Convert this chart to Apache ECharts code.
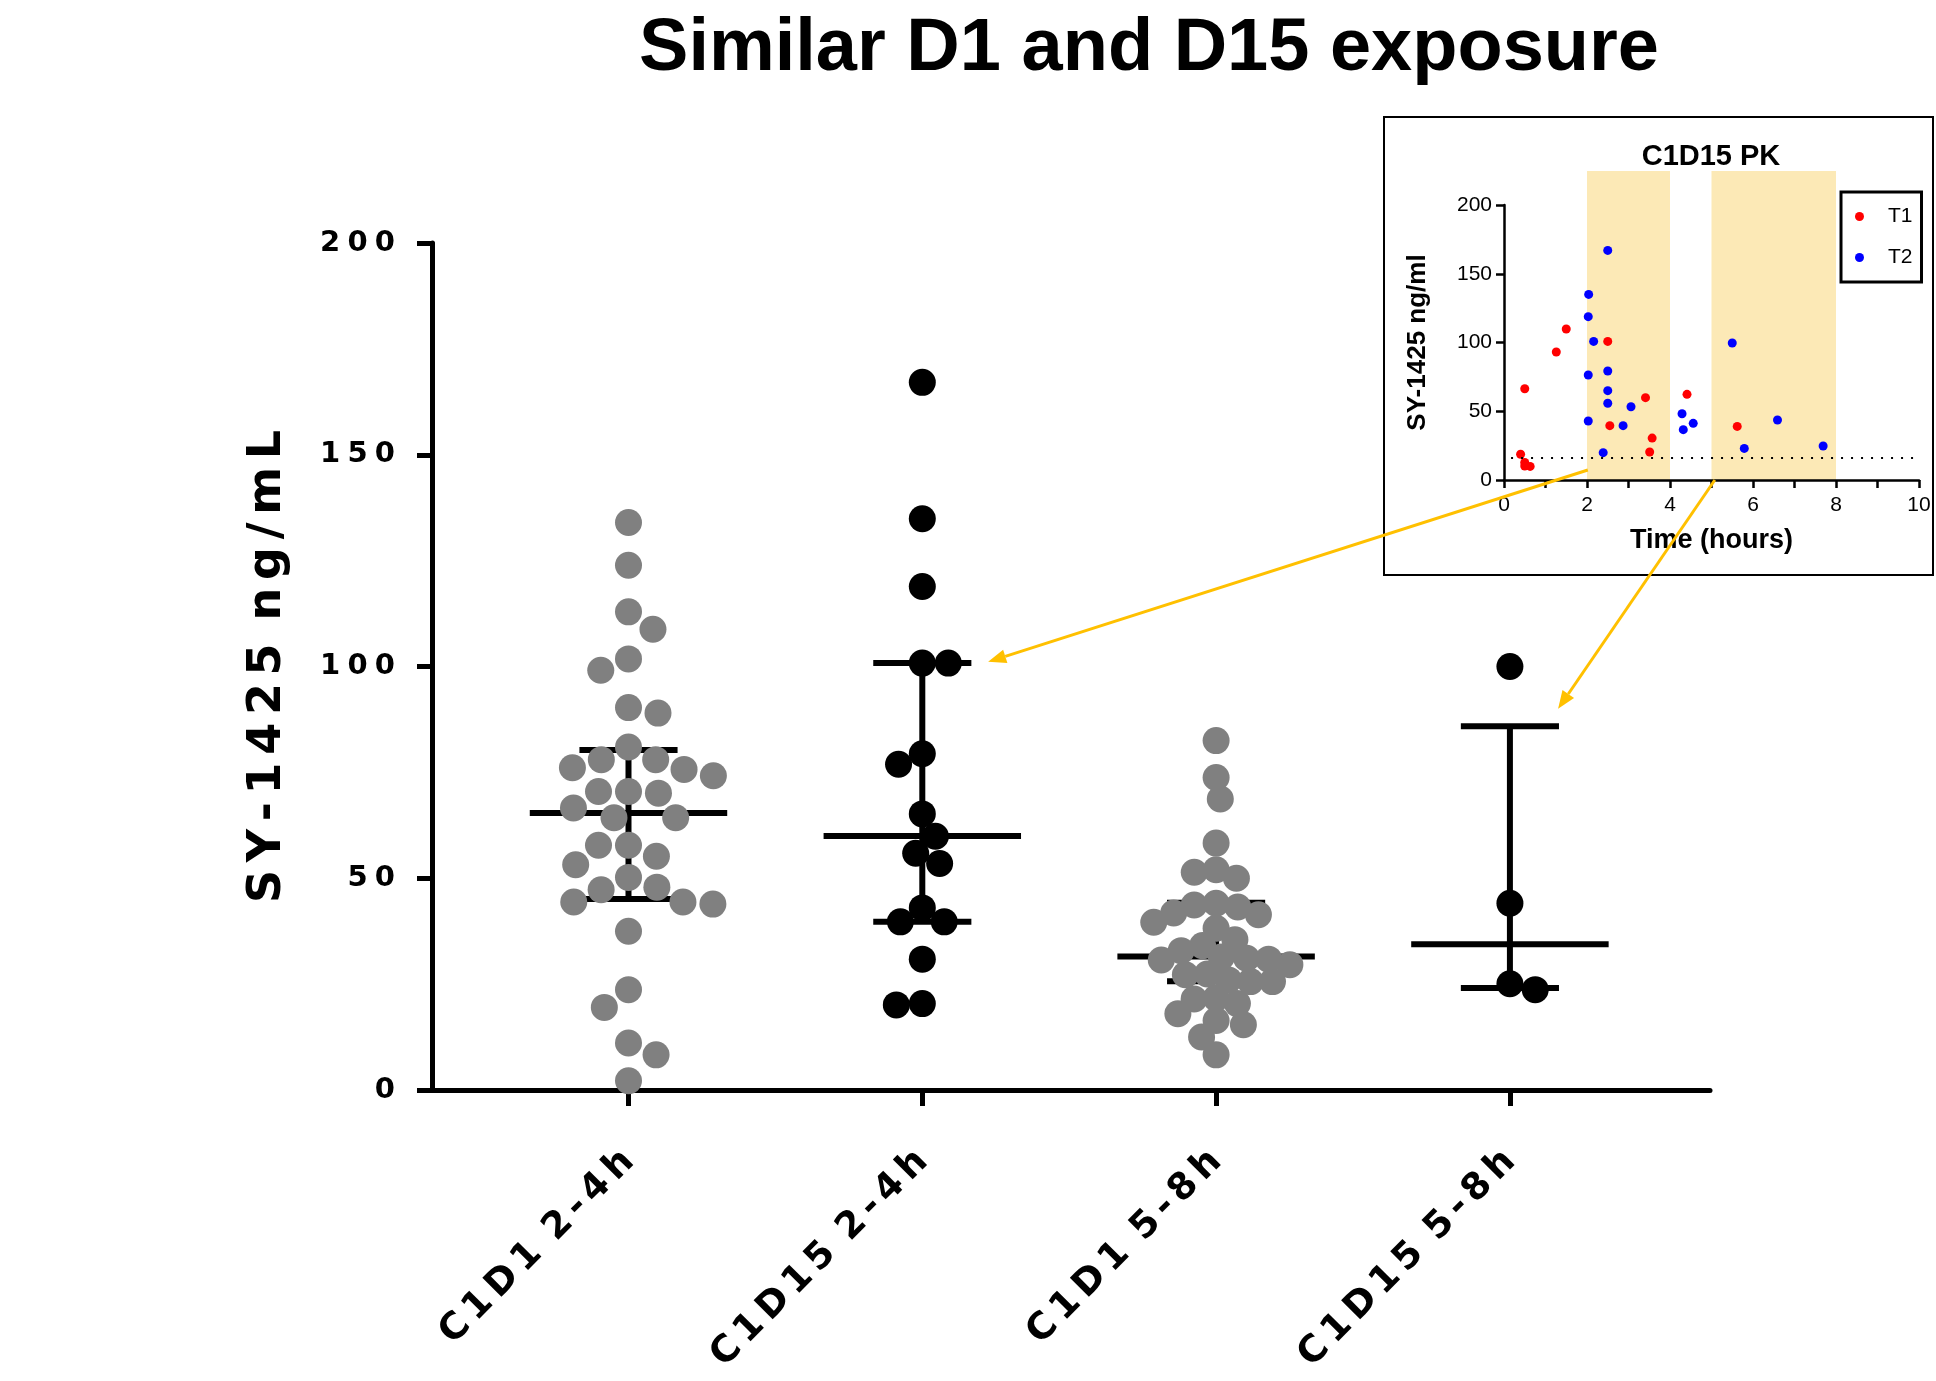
<!DOCTYPE html>
<html>
<head>
<meta charset="utf-8">
<title>Similar D1 and D15 exposure</title>
<script src="https://cdn.jsdelivr.net/npm/echarts@6/dist/echarts.min.js"></script>
<style>
  html, body { margin: 0; padding: 0; background: #fff; }
  #chart { width: 1936px; height: 1381px; }
</style>
</head>
<body>
<div id="chart"></div>
<script>
// ---- data ----
const categories = ['C1D1 2-4h', 'C1D15 2-4h', 'C1D1 5-8h', 'C1D15 5-8h']

const c1d1Early = [134.0, 123.9, 112.9, 108.8, 101.8, 99.1, 90.3, 89.0, 81.0, 78.0, 78.0, 76.1,
  75.7, 74.2, 70.5, 70.5, 70.1, 66.6, 64.3, 64.3, 57.8, 57.8, 55.2, 53.2, 50.2, 47.9, 47.3,
  44.4, 44.4, 43.9, 37.5, 23.7, 19.5, 11.1, 8.3, 2.2]
const c1d15Early = [167.1, 134.9, 118.9, 100.8, 100.8, 79.4, 76.9, 65.2, 59.9, 55.9, 53.5,
  43.0, 39.7, 39.7, 30.9, 20.4, 20.1]
const c1d1Late = [82.5, 73.8, 68.7, 58.3, 52.0, 51.4, 50.0, 44.1, 43.7, 43.2, 41.8, 41.4, 39.6,
  38.2, 35.5, 34.1, 32.9, 31.4, 31.1, 30.9, 30.7, 29.6, 27.4, 27.2, 26.0, 25.6, 25.6, 21.7,
  21.5, 20.4, 18.0, 16.4, 15.4, 12.5, 8.3]
const c1d15Late = [100.0, 44.1, 25.1, 23.7]

// centre line and bar ends per group
const centerValues = [65.4, 60.0, 31.5, 34.4]
const lowerValues = [45.1, 39.7, 25.7, 24.1]
const upperValues = [80.3, 100.8, 44.2, 85.9]

// inset: C1D15 PK
const t1Hours = [0.40, 0.50, 0.50, 0.63, 0.50, 1.26, 1.50, 2.50, 2.55, 3.41, 3.51, 3.57, 4.41, 5.62]
const t1Conc = [18.7, 12.8, 10.2, 9.9, 66.4, 93.1, 109.8, 100.8, 39.5, 59.9, 20.4, 30.5, 62.3, 39.0]
const t2Hours = [2.50, 2.04, 2.03, 2.16, 2.03, 2.50, 2.50, 2.50, 3.06, 2.03, 2.87, 2.39, 4.29,
  4.32, 4.56, 5.50, 5.79, 6.59, 7.69]
const t2Conc = [167.0, 135.0, 118.8, 100.8, 76.4, 79.3, 65.0, 55.8, 53.3, 42.9, 39.5, 19.9, 48.2,
  36.6, 41.2, 99.6, 23.0, 43.6, 24.7]
const lloq = 16.5
const pkWindows = [[2, 4], [5, 8]]

// arrows: [inset point, main point]
const arrowLinks = [
  [[2.02, 7.3], [2.224, 101.1]],
  [[5.08, 0], [4.164, 90.0]]
]

// ---- layout ----
const MAIN = { left: 432, right: 226, top: 243, bottom: 291 }
const INSET = { left: 1504, right: 17, top: 205, bottom: 901 }
const X_MIN = 0.3312
const X_MAX = 4.681
const MEAN_HALF = 0.336
const CAP_HALF = 0.167
const DOT = 27
const ARROW = '#FFC000'
// wide letter spacing like the exported figure
const spaced = (s, gap) => s.split(' ').map(w => w.split('').join(gap)).join(gap + gap + gap)

const chart = echarts.init(document.getElementById('chart'))

const ppu = (chart.getWidth() - MAIN.left - MAIN.right) / (X_MAX - X_MIN)
const ppv = (chart.getHeight() - MAIN.top - MAIN.bottom) / 200

// simple beeswarm: spread points sideways so they do not pile up
function swarm(values, xc, dist) {
  const order = values.map((v, i) => i).sort((a, b) => values[b] - values[a])
  const placed = []
  const out = []
  let lastSide = -1
  order.forEach(i => {
    const y = values[i] * ppv
    const near = placed.filter(p => Math.abs(p.y - y) < dist)
    const cands = [0]
    near.forEach(p => {
      const dx = Math.sqrt(dist * dist - (p.y - y) * (p.y - y))
      cands.push(p.x - dx, p.x + dx)
    })
    const ok = cands.filter(c => near.every(p => Math.hypot(p.x - c, p.y - y) >= dist - 0.01))
    ok.sort((a, b) => (Math.abs(a) - Math.abs(b)) || (lastSide > 0 ? a - b : b - a))
    const x = ok[0]
    if (x !== 0) lastSide = Math.sign(x)
    placed.push({ x, y })
    out.push([xc + x / ppu, values[i]])
  })
  return out
}

const groups = [c1d1Early, c1d15Early, c1d1Late, c1d15Late]
const groupColors = ['#808080', '#000000', '#808080', '#000000']
const swarmGap = [30, 26, 22, 26]
const summaryData = categories.map((c, i) => [i + 1, centerValues[i], lowerValues[i], upperValues[i]])

function renderSummary(params, api) {
  const x = api.value(0)
  const seg = (x1, y1, x2, y2) => {
    const a = api.coord([x1, y1])
    const b = api.coord([x2, y2])
    return {
      type: 'line',
      shape: { x1: a[0], y1: a[1], x2: b[0], y2: b[1] },
      style: { stroke: '#000', lineWidth: 6 }
    }
  }
  return {
    type: 'group',
    children: [
      seg(x - MEAN_HALF, api.value(1), x + MEAN_HALF, api.value(1)),
      seg(x, api.value(2), x, api.value(3)),
      seg(x - CAP_HALF, api.value(2), x + CAP_HALF, api.value(2)),
      seg(x - CAP_HALF, api.value(3), x + CAP_HALF, api.value(3))
    ]
  }
}

function renderWindow(params, api) {
  const a = api.coord([api.value(0), 1])
  const b = api.coord([api.value(1), 0])
  return {
    type: 'rect',
    shape: { x: a[0], y: a[1], width: b[0] - a[0], height: b[1] - a[1] },
    style: { fill: '#FCE9B6' }
  }
}

const zip = (xs, ys) => xs.map((x, i) => [x, ys[i]])

const tickFont = '"Liberation Sans", Arial, sans-serif'
const wideFont = '"DejaVu Sans", sans-serif'

chart.setOption({
  animation: false,
  backgroundColor: '#fff',
  grid: [
    { left: MAIN.left, right: MAIN.right, top: MAIN.top, bottom: MAIN.bottom },
    { left: INSET.left, right: INSET.right, top: INSET.top, bottom: INSET.bottom },
    { left: INSET.left, right: INSET.right, top: 171, bottom: INSET.bottom }
  ],
  legend: {
    data: ['T1', 'T2'],
    orient: 'vertical',
    left: 1841,
    top: 192,
    icon: 'circle',
    itemWidth: 9,
    itemHeight: 9,
    itemGap: 20,
    padding: [14, 9, 14, 14],
    borderColor: '#000',
    borderWidth: 3,
    textStyle: { fontFamily: tickFont, fontSize: 21, color: '#000', lineHeight: 20, padding: [0, 0, 0, 19] }
  },
  xAxis: [{
    gridIndex: 0,
    type: 'value',
    min: X_MIN,
    max: X_MAX,
    splitLine: { show: false },
    axisLine: { lineStyle: { color: '#000', width: 5 } },
    axisTick: { customValues: [1, 2, 3, 4], length: 16, lineStyle: { color: '#000', width: 5 } },
    axisLabel: {
      customValues: [1, 2, 3, 4],
      rotate: 45,
      margin: 66,
      color: '#000',
      fontFamily: wideFont,
      fontWeight: 'bold',
      fontSize: 37,
      formatter: v => spaced(categories[Math.round(v) - 1], '\u2006')
    }
  }, {
    gridIndex: 1,
    type: 'value',
    min: 0,
    max: 10,
    interval: 1,
    name: 'Time (hours)',
    nameLocation: 'middle',
    nameGap: 47,
    nameTextStyle: { fontFamily: tickFont, fontWeight: 'bold', fontSize: 27, color: '#000' },
    splitLine: { show: false },
    axisLine: { lineStyle: { color: '#000', width: 2.5 } },
    axisTick: { length: 8, lineStyle: { color: '#000', width: 2.5 } },
    axisLabel: {
      margin: 15,
      color: '#000',
      fontFamily: tickFont,
      fontSize: 21,
      formatter: v => (v % 2 ? '' : String(v))
    }
  }, {
    gridIndex: 2, type: 'value', min: 0, max: 10, show: false
  }],
  yAxis: [{
    gridIndex: 0,
    type: 'value',
    min: 0,
    max: 200,
    interval: 50,
    name: spaced('SY-1425 ng/mL', '\u2006'),
    nameLocation: 'middle',
    nameGap: 141,
    nameTextStyle: { fontFamily: wideFont, fontWeight: 'bold', fontSize: 46, color: '#000' },
    splitLine: { show: false },
    axisLine: { show: true, lineStyle: { color: '#000', width: 5 } },
    axisTick: { show: true, length: 15, lineStyle: { color: '#000', width: 5 } },
    axisLabel: {
      margin: 37,
      color: '#000',
      fontFamily: wideFont,
      fontWeight: 'bold',
      fontSize: 29,
      formatter: v => spaced(String(v), '\u2005')
    }
  }, {
    gridIndex: 1,
    type: 'value',
    min: 0,
    max: 200,
    interval: 50,
    name: 'SY-1425 ng/ml',
    nameLocation: 'middle',
    nameGap: 73,
    nameTextStyle: { fontFamily: tickFont, fontWeight: 'bold', fontSize: 26, color: '#000' },
    splitLine: { show: false },
    axisLine: { show: true, lineStyle: { color: '#000', width: 2.5 } },
    axisTick: { show: true, length: 8, lineStyle: { color: '#000', width: 2.5 } },
    axisLabel: { margin: 12, color: '#000', fontFamily: tickFont, fontSize: 21 }
  }, {
    gridIndex: 2, type: 'value', min: 0, max: 1, show: false
  }],
  series: [
    {
      name: 'summary',
      type: 'custom',
      xAxisIndex: 0,
      yAxisIndex: 0,
      z: 2,
      renderItem: renderSummary,
      data: summaryData
    },
    ...groups.map((vals, i) => ({
      name: categories[i],
      type: 'scatter',
      xAxisIndex: 0,
      yAxisIndex: 0,
      z: 3,
      symbol: 'circle',
      symbolSize: DOT,
      itemStyle: { color: groupColors[i], opacity: 1 },
      data: swarm(vals, i + 1, swarmGap[i])
    })),
    {
      name: 'windows',
      type: 'custom',
      xAxisIndex: 2,
      yAxisIndex: 2,
      z: -1,
      silent: true,
      renderItem: renderWindow,
      data: pkWindows
    },
    {
      name: 'T1',
      type: 'scatter',
      xAxisIndex: 1,
      yAxisIndex: 1,
      symbolSize: 9,
      itemStyle: { color: '#FF0000', opacity: 1 },
      data: zip(t1Hours, t1Conc),
      markLine: {
        silent: true,
        symbol: 'none',
        label: { show: false },
        lineStyle: { color: '#000', width: 2, type: [2, 8] },
        data: [[{ coord: [0.17, lloq] }, { coord: [10, lloq] }]]
      }
    },
    {
      name: 'T2',
      type: 'scatter',
      xAxisIndex: 1,
      yAxisIndex: 1,
      symbolSize: 9,
      itemStyle: { color: '#0000FF', opacity: 1 },
      data: zip(t2Hours, t2Conc)
    }
  ]
})

// titles, inset frame and the two arrows
function arrowShapes(from, to, idx) {
  const s = chart.convertToPixel({ gridIndex: 1 }, from)
  const t = chart.convertToPixel({ gridIndex: 0 }, to)
  const len = Math.hypot(t[0] - s[0], t[1] - s[1])
  const ux = (t[0] - s[0]) / len
  const uy = (t[1] - s[1]) / len
  const head = 18
  const half = 7
  const bx = t[0] - ux * head
  const by = t[1] - uy * head
  return [{
    type: 'line',
    id: 'arrowLine' + idx,
    z: 100,
    shape: { x1: s[0], y1: s[1], x2: bx, y2: by },
    style: { stroke: ARROW, lineWidth: 3 }
  }, {
    type: 'polygon',
    id: 'arrowHead' + idx,
    z: 100,
    shape: { points: [[t[0], t[1]], [bx - uy * half, by + ux * half], [bx + uy * half, by - ux * half]] },
    style: { fill: ARROW }
  }]
}

chart.setOption({
  graphic: [
    {
      type: 'text',
      id: 'mainTitle',
      x: 1149,
      y: 50,
      style: {
        text: 'Similar D1 and D15 exposure',
        font: 'bold 74px "Liberation Sans", Arial, sans-serif',
        fill: '#000',
        textAlign: 'center', align: 'center',
        textVerticalAlign: 'middle', verticalAlign: 'middle'
      }
    },
    {
      type: 'rect',
      id: 'insetFrame',
      shape: { x: 1384, y: 117, width: 549, height: 458 },
      style: { fill: 'none', stroke: '#000', lineWidth: 2 }
    },
    {
      type: 'text',
      id: 'insetTitle',
      x: 1711,
      y: 157,
      style: {
        text: 'C1D15 PK',
        font: 'bold 29px "Liberation Sans", Arial, sans-serif',
        fill: '#000',
        textAlign: 'center', align: 'center',
        textVerticalAlign: 'middle', verticalAlign: 'middle'
      }
    },
    ...arrowLinks.flatMap((l, i) => arrowShapes(l[0], l[1], i))
  ]
})
</script>
</body>
</html>
